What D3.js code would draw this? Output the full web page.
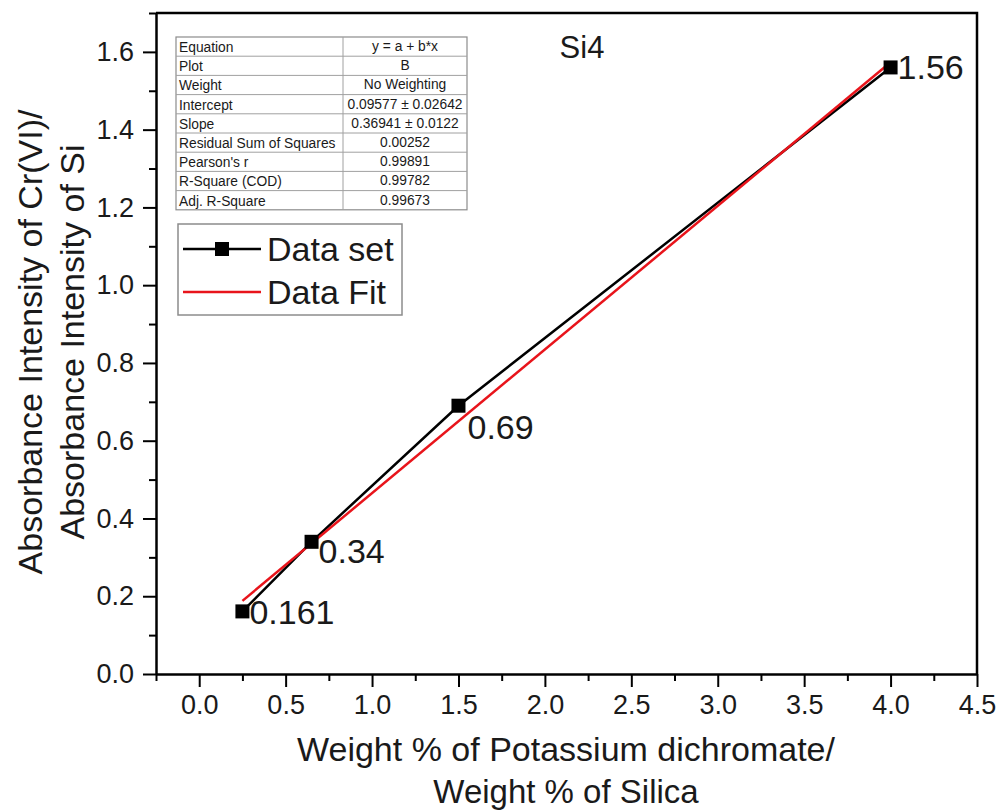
<!DOCTYPE html>
<html>
<head>
<meta charset="utf-8">
<script src="https://cdn.jsdelivr.net/npm/d3@7"></script>
<style>
  html, body { margin: 0; padding: 0; background: #fff; }
  svg { display: block; font-family: Arial, "Liberation Sans", sans-serif; }
</style>
</head>
<body>
<script>
// Calibration data: mass ratio vs absorbance ratio
const xValues = [0.25, 0.65, 1.5, 4.0];
const yValues = [0.161, 0.34, 0.69, 1.56];
const pointLabels = ["0.161", "0.34", "0.69", "1.56"];

// Linear fit parameters
const fitIntercept = 0.09577;
const fitSlope = 0.36941;

const xTicks = [0, 0.5, 1, 1.5, 2, 2.5, 3, 3.5, 4, 4.5];
const yTicks = [0, 0.2, 0.4, 0.6, 0.8, 1.0, 1.2, 1.4, 1.6];

const tableKeys = ["Equation", "Plot", "Weight", "Intercept", "Slope",
  "Residual Sum of Squares", "Pearson's r", "R-Square (COD)", "Adj. R-Square"];
const tableValues = ["y = a + b*x", "B", "No Weighting", "0.09577 \u00b1 0.02642",
  "0.36941 \u00b1 0.0122", "0.00252", "0.99891", "0.99782", "0.99673"];

const legendNames = ["Data set", "Data Fit"];

const W = 999, H = 812;
const m = { left: 156, right: 977, top: 13, bottom: 674 };
const ink = "#1a1a1a";

const svg = d3.select("body").append("svg").attr("width", W).attr("height", H);

const x = d3.scaleLinear().domain([-0.25, 4.5]).range([m.left, m.right]);
const y = d3.scaleLinear().domain([0, 1.7]).range([m.bottom, m.top]);

// Axes with outward ticks
const xMinor = d3.range(-0.25, 4.51, 0.25).filter(v => !xTicks.some(t => Math.abs(t - v) < 1e-6));
const yMinor = d3.range(0.1, 1.71, 0.2);

const gx = svg.append("g").attr("transform", `translate(0,${m.bottom})`);
gx.call(d3.axisBottom(x).tickValues(xTicks).tickFormat(d3.format(".1f")).tickSize(13).tickPadding(8).tickSizeOuter(0));
gx.append("g").call(d3.axisBottom(x).tickValues(xMinor).tickFormat("").tickSize(7).tickSizeOuter(0))
  .select(".domain").remove();

const gy = svg.append("g").attr("transform", `translate(${m.left},0)`);
gy.call(d3.axisLeft(y).tickValues(yTicks).tickFormat(d3.format(".1f")).tickSize(13).tickPadding(9).tickSizeOuter(0));
gy.append("g").call(d3.axisLeft(y).tickValues(yMinor).tickFormat("").tickSize(7).tickSizeOuter(0))
  .select(".domain").remove();

svg.selectAll(".tick line").attr("stroke", "#000").attr("stroke-width", 2);
svg.selectAll(".domain").attr("stroke", "#000").attr("stroke-width", 2.5);
svg.selectAll(".tick text").attr("font-size", 27).attr("fill", ink)
  .attr("font-family", "Arial, 'Liberation Sans', sans-serif");

// Frame top and right
svg.append("path")
  .attr("d", `M${m.left},${m.top}H${m.right}V${m.bottom}`)
  .attr("fill", "none").attr("stroke", "#000").attr("stroke-width", 2.5);

// Axis titles
svg.append("text").attr("x", 566).attr("y", 761).attr("text-anchor", "middle")
  .attr("font-size", 34).attr("fill", ink).text("Weight % of Potassium dichromate/");
svg.append("text").attr("x", 566).attr("y", 803).attr("text-anchor", "middle")
  .attr("font-size", 33).attr("fill", ink).text("Weight % of Silica");

const yt = svg.append("g").attr("transform", "translate(0,342) rotate(-90)");
yt.append("text").attr("x", 0).attr("y", 42).attr("text-anchor", "middle")
  .attr("font-size", 34).attr("fill", ink).text("Absorbance Intensity of Cr(VI)/");
yt.append("text").attr("x", 0).attr("y", 84).attr("text-anchor", "middle")
  .attr("font-size", 34).attr("fill", ink).text("Absorbance Intensity of Si");

// Title inside plot
svg.append("text").attr("x", 582).attr("y", 58).attr("text-anchor", "middle")
  .attr("font-size", 31).attr("fill", ink).text("Si4");

const points = xValues.map((v, i) => ({ x: v, y: yValues[i], label: pointLabels[i] }));

// Data line and markers
svg.append("path").datum(points)
  .attr("d", d3.line().x(d => x(d.x)).y(d => y(d.y)))
  .attr("fill", "none").attr("stroke", "#000").attr("stroke-width", 2.5);

// Fit line over the data range
const fitX = d3.extent(xValues);
svg.append("path").datum(fitX.map(v => ({ x: v, y: fitIntercept + fitSlope * v })))
  .attr("d", d3.line().x(d => x(d.x)).y(d => y(d.y)))
  .attr("fill", "none").attr("stroke", "#e8141b").attr("stroke-width", 2.5);

const ms = 14;
svg.selectAll("rect.pt").data(points).enter().append("rect").attr("class", "pt")
  .attr("x", d => x(d.x) - ms / 2).attr("y", d => y(d.y) - ms / 2)
  .attr("width", ms).attr("height", ms).attr("fill", "#000");

// Value labels beside each point
const labelShift = [[7, 13], [7, 21], [9, 33], [7, 12]];
svg.selectAll("text.val").data(points).enter().append("text").attr("class", "val")
  .attr("x", (d, i) => x(d.x) + labelShift[i][0])
  .attr("y", (d, i) => y(d.y) + labelShift[i][1])
  .attr("font-size", 34).attr("fill", ink).text(d => d.label);

// Fit statistics table
const tb = { x: 176, y: 37, w: 291, rowH: 19.2, split: 167 };
const tg = svg.append("g").attr("transform", `translate(${tb.x},${tb.y})`);
tg.append("rect").attr("width", tb.w).attr("height", tb.rowH * tableKeys.length)
  .attr("fill", "#fff").attr("stroke", "#8c8c8c").attr("stroke-width", 1.2);
tableKeys.forEach((k, i) => {
  if (i > 0) tg.append("line").attr("x1", 0).attr("x2", tb.w)
    .attr("y1", i * tb.rowH).attr("y2", i * tb.rowH).attr("stroke", "#a0a0a0").attr("stroke-width", 1);
  tg.append("text").attr("x", 3).attr("y", i * tb.rowH + 15)
    .attr("font-size", 13.8).attr("fill", ink).text(k);
  tg.append("text").attr("x", tb.split + (tb.w - tb.split) / 2).attr("y", i * tb.rowH + 14)
    .attr("text-anchor", "middle").attr("font-size", 13.8).attr("fill", ink).text(tableValues[i]);
});
tg.append("line").attr("x1", tb.split).attr("x2", tb.split).attr("y1", 0)
  .attr("y2", tb.rowH * tableKeys.length).attr("stroke", "#a0a0a0").attr("stroke-width", 1);

// Legend
const lg = svg.append("g").attr("transform", "translate(178,224)");
lg.append("rect").attr("width", 224).attr("height", 91).attr("fill", "#fff")
  .attr("stroke", "#8c8c8c").attr("stroke-width", 1.5);
lg.append("line").attr("x1", 5).attr("x2", 83).attr("y1", 25).attr("y2", 25)
  .attr("stroke", "#000").attr("stroke-width", 2.5);
lg.append("rect").attr("x", 37).attr("y", 18).attr("width", ms).attr("height", ms).attr("fill", "#000");
lg.append("line").attr("x1", 5).attr("x2", 83).attr("y1", 68).attr("y2", 68)
  .attr("stroke", "#e8141b").attr("stroke-width", 2.5);
legendNames.forEach((n, i) => {
  lg.append("text").attr("x", 89).attr("y", 37 + i * 43).attr("font-size", 34)
    .attr("fill", ink).text(n);
});
</script>
</body>
</html>
